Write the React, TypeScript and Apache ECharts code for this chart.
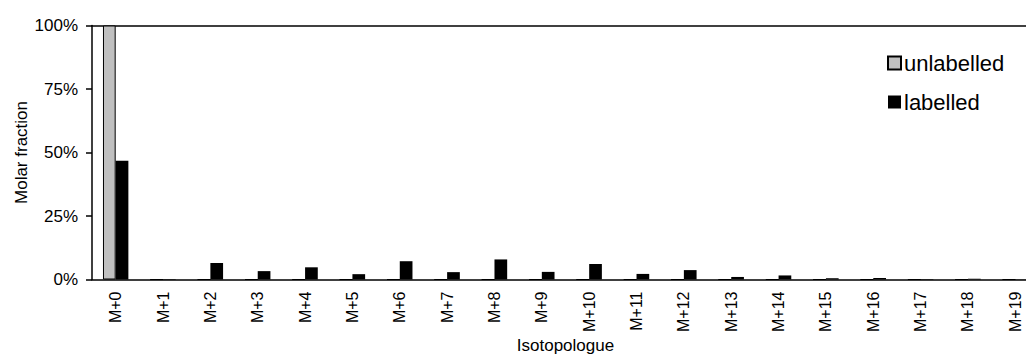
import React, { useEffect, useRef } from "react";
import * as echarts from "echarts";

const categories = [
  "M+0", "M+1", "M+2", "M+3", "M+4", "M+5", "M+6", "M+7", "M+8", "M+9",
  "M+10", "M+11", "M+12", "M+13", "M+14", "M+15", "M+16", "M+17", "M+18", "M+19",
];
const unlabelled = [100, 0, 0, 0, 0, 0, 0, 0, 0, 0, 0, 0, 0, 0, 0, 0, 0, 0, 0, 0];
const labelled = [46.8, 0.2, 6.5, 3.3, 4.8, 2.1, 7.2, 2.9, 7.9, 3.0, 6.1, 2.2, 3.7, 1.0, 1.6, 0.5, 0.6, 0.2, 0.3, 0.1];
const yTicks = { min: 0, max: 100, interval: 25 };

export default function App() {
  const ref = useRef<HTMLDivElement>(null);
  useEffect(() => {
    document.body.style.margin = "0";
    const chart = echarts.init(ref.current!, null, { renderer: "svg" });
    const font = "Liberation Sans, Arial, sans-serif";
    chart.setOption({
      animation: false,
      textStyle: { fontFamily: font, color: "#000" },
      legend: {
        orient: "vertical",
        left: 882,
        top: 47,
        itemWidth: 13,
        itemHeight: 13,
        itemGap: 17,
        icon: "rect",
        textStyle: { fontSize: 22, color: "#000", fontFamily: font, padding: [0, 0, 0, -2] },
        data: ["unlabelled", "labelled"],
      },
      grid: { left: 92, top: 25.5, width: 947, height: 254, containLabel: false, outerBoundsMode: "none" },
      xAxis: [
        {
          type: "category",
          data: categories,
          boundaryGap: true,
          axisLine: { lineStyle: { color: "#000", width: 1.5 } },
          axisTick: { length: 6, lineStyle: { color: "#000", width: 1.5 } },
          axisLabel: { rotate: 90, fontSize: 16, color: "#000", margin: 12, fontFamily: font, interval: 0 },
          name: "Isotopologue",
          nameLocation: "middle",
          nameGap: 57,
          nameMoveOverlap: false,
          nameTextStyle: { fontSize: 17, color: "#000", fontFamily: font },
        },
        {
          type: "category",
          data: categories,
          position: "top",
          axisLine: { lineStyle: { color: "#000", width: 1.5 } },
          axisTick: { show: false },
          axisLabel: { show: false },
        },
      ],
      yAxis: {
        type: "value",
        min: yTicks.min,
        max: yTicks.max,
        interval: yTicks.interval,
        axisLine: { show: true, lineStyle: { color: "#000", width: 1.5 } },
        axisTick: { show: true, length: 6, lineStyle: { color: "#000", width: 1.5 } },
        splitLine: { show: false },
        axisLabel: { formatter: "{value}%", fontSize: 17, color: "#000", margin: 14, fontFamily: font },
        name: "Molar fraction",
        nameLocation: "middle",
        nameRotate: 90,
        nameGap: 62,
        nameMoveOverlap: false,
        nameTextStyle: { fontSize: 17, color: "#000", fontFamily: font },
      },
      series: [
        {
          name: "unlabelled",
          type: "bar",
          data: unlabelled,
          barWidth: 12.7,
          barGap: "0%",
          itemStyle: { color: "#c0c0c0", borderColor: "#000", borderWidth: 1 },
        },
        {
          name: "labelled",
          type: "bar",
          data: labelled,
          barWidth: 12.7,
          barGap: "0%",
          itemStyle: { color: "#000" },
        },
      ],
    });
    return () => chart.dispose();
  }, []);
  return <div ref={ref} style={{ width: 1026, height: 356 }} />;
}
